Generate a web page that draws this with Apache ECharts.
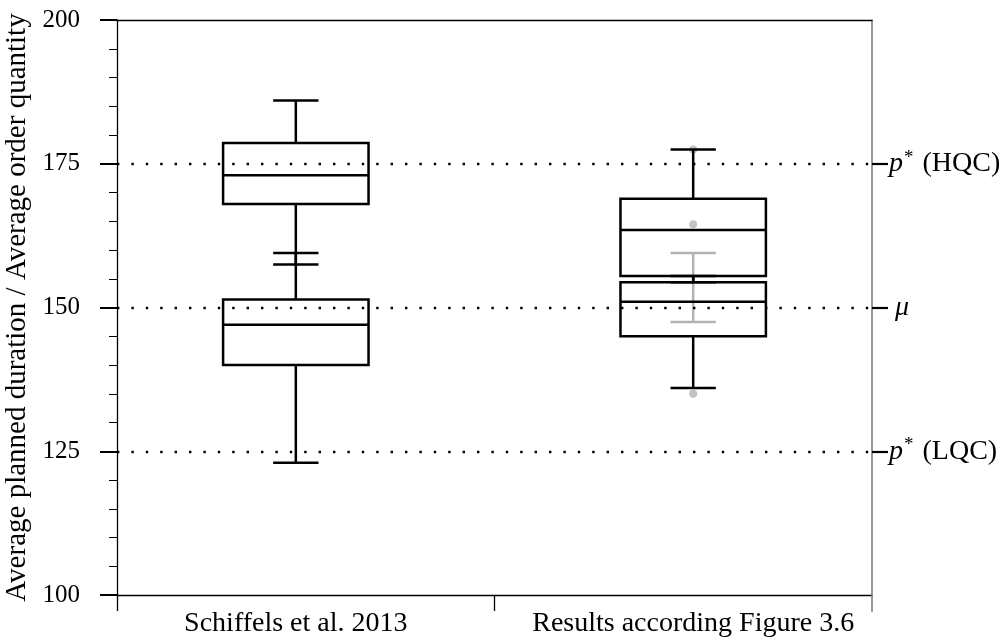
<!DOCTYPE html>
<html>
<head>
<meta charset="utf-8">
<script src="https://cdn.jsdelivr.net/npm/echarts@6/dist/echarts.min.js"></script>
<style>
  html, body { margin: 0; padding: 0; background: #fff; }
  #chart { width: 1005px; height: 639px; }
</style>
</head>
<body>
<div id="chart"></div>
<script>
// Group labels, placed at x = 1 and x = 2
const categories = ['Schiffels et al. 2013', 'Results according Figure 3.6'];
const groupPositions = [1, 2];

// Box statistics per group: [low whisker, Q1, median, Q3, high whisker]
const upperBoxStats = [
  [157.5, 168.0, 173.0, 178.6, 186.0],
  [154.4, 155.5, 163.5, 168.9, 177.5]
];
const lowerBoxStats = [
  [123.0, 140.0, 147.0, 151.4, 159.5],
  [136.0, 145.0, 151.0, 154.4, 155.5]
];

// Grey overlay on the second group: single points and an interval
const greyPoints = [177.5, 164.5, 135.0];
const greyInterval = [147.5, 159.5];

// Reference levels and their labels on the right
const refLevels = [175, 150, 125];
const refLabels = ['{it|p}{sup|*} (HQC)', '{mu|μ}', '{it|p}{sup|*} (LQC)'];

// Left axis ticks
const yTicks = [100, 125, 150, 175, 200];

const serif = '"Liberation Serif", "DejaVu Serif", serif';
const labelSize = 28;
const tickSize = 25;
const boxHalf = 0.183;   // half box width in x units
const capHalf = 0.057;   // half whisker cap width in x units

const boxData = [];
groupPositions.forEach((p, i) => {
  boxData.push([p].concat(upperBoxStats[i]));
  boxData.push([p].concat(lowerBoxStats[i]));
});

function renderBox(params, api) {
  const x = api.value(0);
  const lo = api.value(1), q1 = api.value(2), md = api.value(3), q3 = api.value(4), hi = api.value(5);
  const pL = api.coord([x - boxHalf, q3]);
  const pR = api.coord([x + boxHalf, q1]);
  const c = api.coord([x, md]);
  const cL = api.coord([x - capHalf, lo])[0];
  const cR = api.coord([x + capHalf, lo])[0];
  const yLo = api.coord([x, lo])[1], yHi = api.coord([x, hi])[1];
  const yQ1 = pR[1], yQ3 = pL[1];
  const st = { stroke: '#000', lineWidth: 2.5, fill: null };
  return {
    type: 'group',
    children: [
      { type: 'line', shape: { x1: c[0], y1: yQ3, x2: c[0], y2: yHi }, style: st },
      { type: 'line', shape: { x1: c[0], y1: yQ1, x2: c[0], y2: yLo }, style: st },
      { type: 'line', shape: { x1: cL, y1: yHi, x2: cR, y2: yHi }, style: st },
      { type: 'line', shape: { x1: cL, y1: yLo, x2: cR, y2: yLo }, style: st },
      { type: 'rect', shape: { x: pL[0], y: yQ3, width: pR[0] - pL[0], height: yQ1 - yQ3 },
        style: { stroke: '#000', lineWidth: 2.5, fill: 'rgba(0,0,0,0)' } },
      { type: 'line', shape: { x1: pL[0], y1: c[1], x2: pR[0], y2: c[1] }, style: st }
    ]
  };
}

function renderInterval(params, api) {
  const x = api.value(0);
  const a = api.coord([x, api.value(1)]);
  const b = api.coord([x, api.value(2)]);
  const l = api.coord([x - capHalf, 0])[0], r = api.coord([x + capHalf, 0])[0];
  const st = { stroke: '#b3b3b3', lineWidth: 2.5 };
  return {
    type: 'group',
    children: [
      { type: 'line', shape: { x1: a[0], y1: a[1], x2: b[0], y2: b[1] }, style: st },
      { type: 'line', shape: { x1: l, y1: a[1], x2: r, y2: a[1] }, style: st },
      { type: 'line', shape: { x1: l, y1: b[1], x2: r, y2: b[1] }, style: st }
    ]
  };
}

const chart = echarts.init(document.getElementById('chart'), null, { renderer: 'canvas' });

chart.setOption({
  animation: false,
  backgroundColor: '#fff',
  textStyle: { fontFamily: serif },
  grid: { left: 117, right: 133, top: 20, bottom: 44, containLabel: false, outerBoundsMode: 'none' },
  xAxis: [
    {
      type: 'value', min: 0.55, max: 2.45, position: 'bottom',
      axisLine: { show: true, lineStyle: { color: '#000', width: 1.3 } },
      axisTick: { show: true, inside: false, length: 16, customValues: [0.55, 1.5],
        lineStyle: { color: '#000', width: 1.3 } },
      axisLabel: { show: true, customValues: groupPositions, margin: 15,
        formatter: v => categories[Math.round(v) - 1] || '',
        fontFamily: serif, fontSize: labelSize, color: '#000' },
      splitLine: { show: false }
    },
    {
      type: 'value', min: 0.55, max: 2.45, position: 'top',
      axisLine: { show: true, lineStyle: { color: '#000', width: 1.3 } },
      axisTick: { show: false }, axisLabel: { show: false }, splitLine: { show: false }
    },
    {
      // continuation of the grey right frame below the bottom edge
      type: 'value', min: 0.55, max: 2.45, position: 'bottom',
      axisLine: { show: false },
      axisTick: { show: true, inside: false, length: 17, customValues: [2.45],
        lineStyle: { color: '#808080', width: 1.6 } },
      axisLabel: { show: false }, splitLine: { show: false }
    }
  ],
  yAxis: [
    {
      type: 'value', min: 100, max: 200, interval: 25, position: 'left',
      name: 'Average planned duration / Average order quantity',
      nameLocation: 'middle', nameGap: 82, nameRotate: 90,
      nameTextStyle: { fontFamily: serif, fontSize: 29, color: '#000' },
      axisLine: { show: true, lineStyle: { color: '#000', width: 1.3 } },
      axisTick: { show: true, inside: false, length: 17, lineStyle: { color: '#000', width: 2 } },
      minorTick: { show: true, splitNumber: 5, length: 8, lineStyle: { color: '#000', width: 1 } },
      axisLabel: { show: true, margin: 37, fontFamily: serif, fontSize: tickSize, color: '#000',
        customValues: yTicks },
      splitLine: { show: false }, minorSplitLine: { show: false }
    },
    {
      type: 'value', min: 100, max: 200, position: 'right',
      axisLine: { show: true, lineStyle: { color: '#808080', width: 1.6 } },
      axisTick: { show: true, inside: false, length: 16, customValues: refLevels,
        lineStyle: { color: '#000', width: 2.2 } },
      axisLabel: { show: true, customValues: refLevels, margin: 17,
        formatter: v => refLabels[refLevels.indexOf(v)] || '',
        fontFamily: serif, fontSize: labelSize, color: '#000',
        rich: {
          it: { fontFamily: serif, fontStyle: 'italic', fontSize: labelSize, color: '#000' },
          mu: { fontFamily: serif, fontStyle: 'italic', fontSize: labelSize, color: '#000', padding: [0, 0, 0, 6] },
          sup: { fontFamily: serif, fontSize: 19, color: '#000', padding: [0, 2, 12, 1] }
        } },
      splitLine: { show: false }
    }
  ],
  series: [
    {
      type: 'line', data: [], xAxisIndex: 0, yAxisIndex: 0, silent: true,
      markLine: {
        silent: true, symbol: 'none', label: { show: false },
        lineStyle: { color: '#000', width: 2.4, type: [2.4, 12], cap: 'butt' },
        data: refLevels.map(v => ({ yAxis: v }))
      }
    },
    {
      type: 'custom', xAxisIndex: 0, yAxisIndex: 0, silent: true,
      renderItem: renderInterval,
      data: [[2, greyInterval[0], greyInterval[1]]],
      z: 3
    },
    {
      type: 'scatter', xAxisIndex: 0, yAxisIndex: 0, silent: true,
      symbol: 'circle', symbolSize: 8,
      itemStyle: { color: '#b3b3b3' },
      data: greyPoints.map(v => [2, v]),
      z: 3
    },
    {
      type: 'custom', xAxisIndex: 0, yAxisIndex: 0, silent: true,
      renderItem: renderBox,
      data: boxData,
      z: 4
    }
  ]
});
</script>
</body>
</html>
